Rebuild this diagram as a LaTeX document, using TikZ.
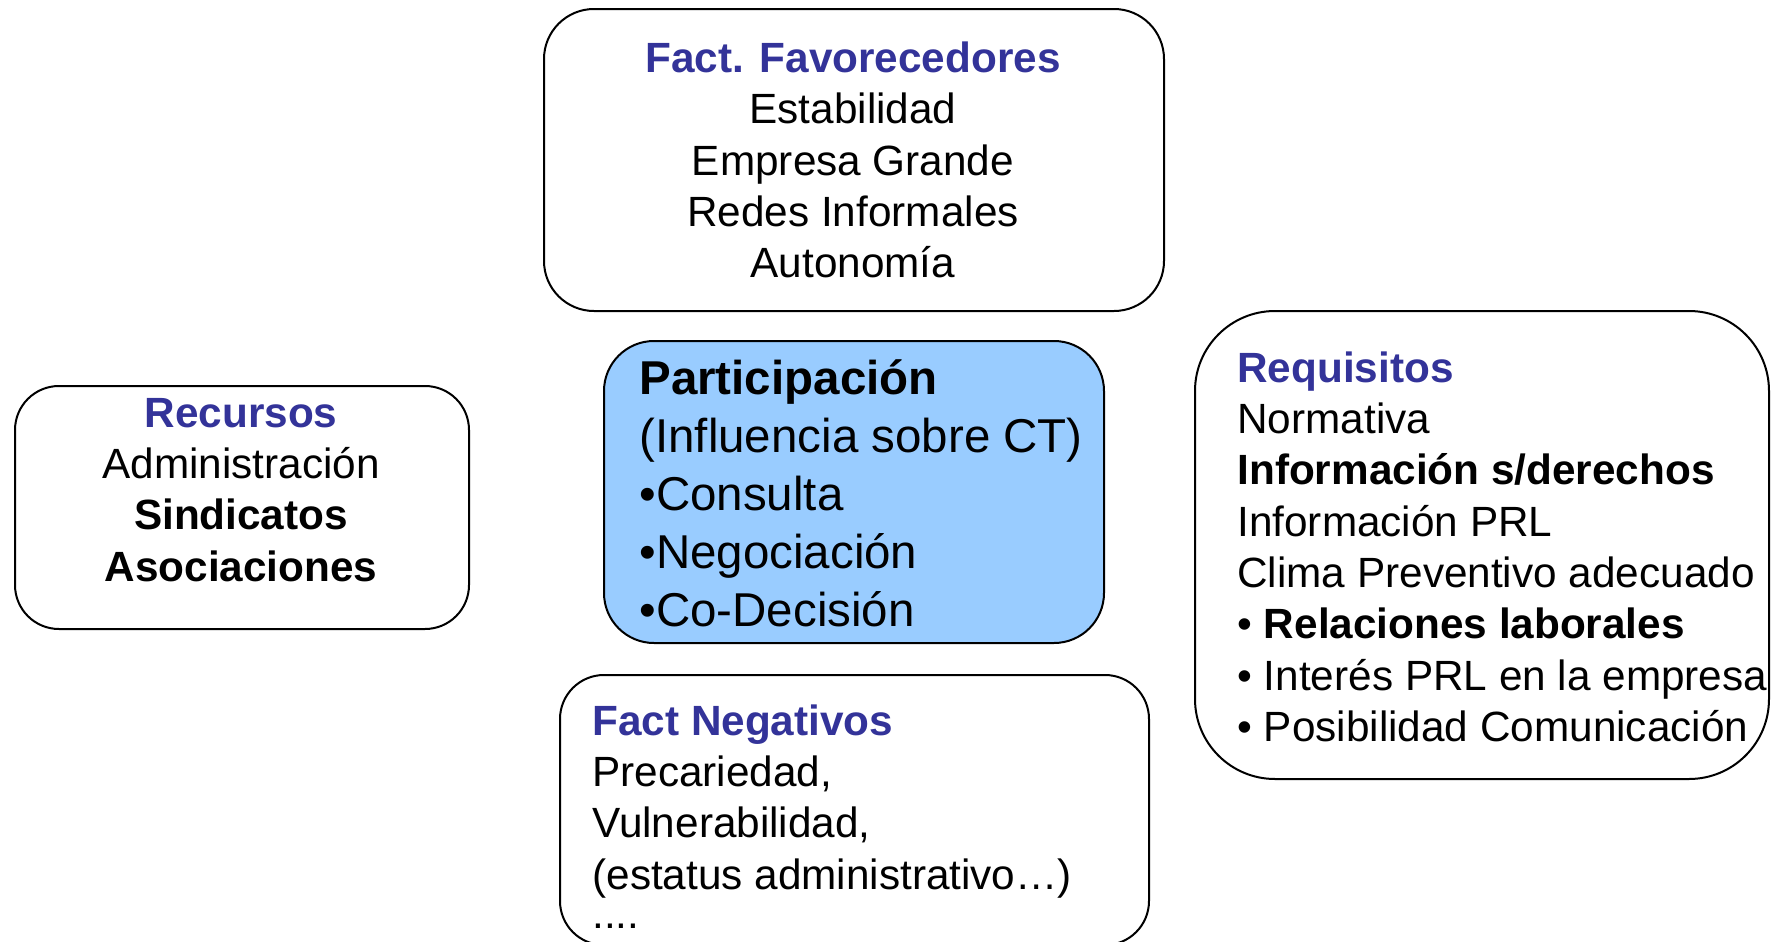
\documentclass[tikz,border=0pt]{standalone}
\usepackage{fontspec}
\setmainfont{Liberation Sans}
\definecolor{ttl}{RGB}{51,51,153}
\definecolor{partfill}{RGB}{153,204,255}
\begin{document}
\begin{tikzpicture}[x=0.5pt,y=-0.5pt,
  box/.style={draw=black,line width=1pt,rounded corners=#1,inner sep=0pt,anchor=north west},
  txt/.style={inner sep=0pt,font=\fontsize{21.15}{25.65}\selectfont},
  bigtxt/.style={inner sep=0pt,font=\fontsize{23.75}{29}\selectfont}]
\clip (0,0) rectangle (1774,942);
% boxes
\node[box=25pt,minimum width=310pt,minimum height=151pt] (fav) at (543,8) {};
\node[box=22pt,minimum width=227pt,minimum height=121.5pt] (rec) at (14,385) {};
\node[box=25pt,fill=partfill,minimum width=250pt,minimum height=151pt] (par) at (603,340) {};
\node[box=40pt,minimum width=287pt,minimum height=234pt] (req) at (1194,310) {};
\node[box=22pt,minimum width=294.5pt,minimum height=135pt] (neg) at (559,674) {};
% texts
\node[txt,anchor=north,align=center] (favt) at (853,36.1)
  {\strut\color{ttl}\bfseries Fact. Favorecedores\\Estabilidad\\Empresa Grande\\Redes Informales\\Autonomía};
\node[txt,anchor=north,align=center] (rect) at (241,391)
  {\strut\color{ttl}\bfseries Recursos\\Administración\\\bfseries Sindicatos\\\bfseries Asociaciones};
\node[bigtxt,anchor=north west,align=left] (part) at (639,353.4)
  {\strut\bfseries Participación\\(Influencia sobre CT)\\•Consulta\\•Negociación\\•Co-Decisión};
\node[txt,anchor=north west,align=left] (reqt) at (1237,346)
  {\strut\color{ttl}\bfseries Requisitos\\Normativa\\\bfseries Información s/derechos\\Información PRL\\Clima Preventivo adecuado\\• \bfseries Relaciones laborales\\• Interés PRL en la empresa\\• Posibilidad Comunicación};
\node[txt,anchor=north west,align=left] (negt) at (592,699)
  {\strut\color{ttl}\bfseries Fact Negativos\\Precariedad,\\Vulnerabilidad,\\(estatus administrativo…)\\[-6.2pt]....};
\end{tikzpicture}
\end{document}
